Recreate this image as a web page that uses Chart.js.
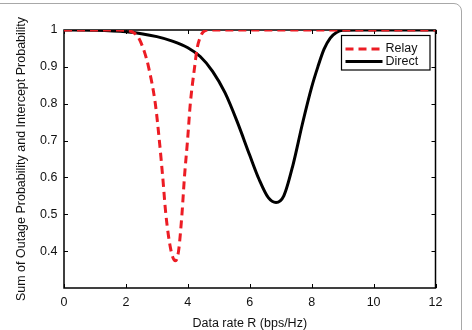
<!DOCTYPE html>
<html>
<head>
<meta charset="utf-8">
<script src="https://cdn.jsdelivr.net/npm/chart.js@4"></script>
<style>
  html, body { margin: 0; padding: 0; background: #fff; overflow: hidden; }
  #wrap { position: relative; width: 472px; height: 330px; }
  #frame {
    position: absolute; left: -20px; top: 3px; width: 482px; height: 400px;
    border: 1.5px solid #a8a8a8; border-radius: 8px; box-sizing: border-box;
  }
  canvas { position: absolute; left: 0; top: 0; }
</style>
</head>
<body>
<div id="wrap">
  <div id="frame"></div>
  <canvas id="chart" width="472" height="330"></canvas>
</div>
<script>
// values
const rateRelay = [0, 1, 2, 2.2, 2.4, 2.6, 2.73, 2.95, 3.08, 3.19, 3.29, 3.46, 3.6, 3.7, 3.81, 3.89, 3.99, 4.08, 4.22, 4.3, 4.4, 4.5, 4.7, 6, 8, 10, 12];
const relayValues = [1, 1, 0.999, 0.995, 0.98, 0.94, 0.9, 0.8, 0.7, 0.6, 0.5, 0.4, 0.374, 0.4, 0.5, 0.6, 0.7, 0.8, 0.9, 0.95, 0.98, 0.995, 1, 1, 1, 1, 1];

const rateDirect = [0, 1, 2, 2.5, 3, 3.5, 4, 4.4, 4.8, 5.2, 5.6, 6.0, 6.3, 6.6, 6.85, 7.1, 7.4, 7.7, 8.0, 8.2, 8.4, 8.6, 8.8, 9.0, 9.5, 10, 11, 12];
const directValues = [1, 0.999, 0.995, 0.99, 0.982, 0.97, 0.952, 0.928, 0.888, 0.83, 0.75, 0.66, 0.595, 0.545, 0.532, 0.55, 0.635, 0.745, 0.845, 0.9, 0.948, 0.978, 0.993, 0.999, 1, 1, 1, 1];

const xTicks = [0, 2, 4, 6, 8, 10, 12];
const yTicks = [0.4, 0.5, 0.6, 0.7, 0.8, 0.9, 1];

const FONT = '"Liberation Sans", Arial, Helvetica, sans-serif';
const RED = 'rgb(236, 28, 36)';

function pts(xs, ys) {
  return xs.map((x, i) => ({ x: x, y: ys[i] }));
}

// matlab-like box with inward ticks on all four sides
const boxPlugin = {
  id: 'box',
  beforeDatasetsDraw(chart) {
    const { ctx, chartArea: a, scales } = chart;
    ctx.save();
    ctx.strokeStyle = '#000';
    ctx.lineWidth = 1;
    const t = 4;
    ctx.beginPath();
    xTicks.forEach((v) => {
      const px = Math.round(scales.x.getPixelForValue(v)) + 0.5;
      ctx.moveTo(px, a.bottom); ctx.lineTo(px, a.bottom - t);
      ctx.moveTo(px, a.top); ctx.lineTo(px, a.top + t);
    });
    yTicks.forEach((v) => {
      const py = Math.round(scales.y.getPixelForValue(v)) + 0.5;
      ctx.moveTo(a.left, py); ctx.lineTo(a.left + t, py);
      ctx.moveTo(a.right, py); ctx.lineTo(a.right - t, py);
    });
    ctx.stroke();
    ctx.lineWidth = 1.5;
    ctx.strokeRect(a.left, a.top, a.right - a.left, a.bottom - a.top);
    ctx.restore();
  },
  afterDraw(chart) {
    // legend box in the upper right corner
    const { ctx, chartArea: a } = chart;
    const w = 88.5, h = 34.5;
    const left = a.right - 5.5 - w, top = a.top + 5.5;
    ctx.save();
    ctx.fillStyle = '#fff';
    ctx.fillRect(left, top, w, h);
    ctx.strokeStyle = '#000';
    ctx.lineWidth = 1.2;
    ctx.strokeRect(left, top, w, h);
    ctx.font = '12.5px ' + FONT;
    ctx.textBaseline = 'middle';
    chart.data.datasets.forEach((ds, i) => {
      const y = top + 13.5 + i * 12.5;
      ctx.beginPath();
      ctx.strokeStyle = ds.borderColor;
      ctx.lineWidth = ds.borderWidth;
      ctx.setLineDash(ds.borderDash || []);
      ctx.moveTo(left + 4, y);
      ctx.lineTo(left + 41, y);
      ctx.stroke();
      ctx.setLineDash([]);
      ctx.fillStyle = '#111';
      ctx.fillText(ds.label, left + 44, y);
    });
    ctx.restore();
  }
};

new Chart(document.getElementById('chart').getContext('2d'), {
  type: 'line',
  data: {
    datasets: [
      {
        label: 'Relay',
        data: pts(rateRelay, relayValues),
        borderColor: RED,
        borderWidth: 3,
        borderDash: [8, 5],
        pointRadius: 0,
        cubicInterpolationMode: 'monotone'
      },
      {
        label: 'Direct',
        data: pts(rateDirect, directValues),
        borderColor: '#000',
        borderWidth: 3,
        pointRadius: 0,
        cubicInterpolationMode: 'monotone'
      }
    ]
  },
  options: {
    responsive: false,
    animation: false,
    layout: { padding: { top: 30, right: 36.5, left: 0, bottom: 0 } },
    plugins: { legend: { display: false }, tooltip: { enabled: false } },
    scales: {
      x: {
        type: 'linear',
        min: 0,
        max: 12,
        afterBuildTicks: (s) => { s.ticks = xTicks.map((v) => ({ value: v })); },
        afterFit: (s) => { s.height = 42; },
        grid: { display: false, drawTicks: false },
        border: { display: false },
        ticks: { padding: 7, color: '#111', font: { family: FONT, size: 12.5 }, maxRotation: 0 },
        title: {
          display: true,
          text: 'Data rate R (bps/Hz)',
          color: '#111',
          font: { family: FONT, size: 12.5, lineHeight: 1 },
          padding: { top: 0, bottom: 0 }
        }
      },
      y: {
        min: 0.3,
        max: 1,
        afterBuildTicks: (s) => { s.ticks = yTicks.map((v) => ({ value: v })); },
        afterFit: (s) => { s.width = 64; },
        grid: { display: false, drawTicks: false },
        border: { display: false },
        ticks: {
          padding: 6.5,
          color: '#111',
          font: { family: FONT, size: 12.5 },
          callback: (v) => String(Number(v.toFixed(1)))
        },
        title: {
          display: true,
          text: 'Sum of Outage Probability and Intercept Probability',
          color: '#111',
          font: { family: FONT, size: 12.5, lineHeight: 1 },
          padding: { top: 15, bottom: 0 }
        }
      }
    }
  },
  plugins: [boxPlugin]
});
</script>
</body>
</html>
